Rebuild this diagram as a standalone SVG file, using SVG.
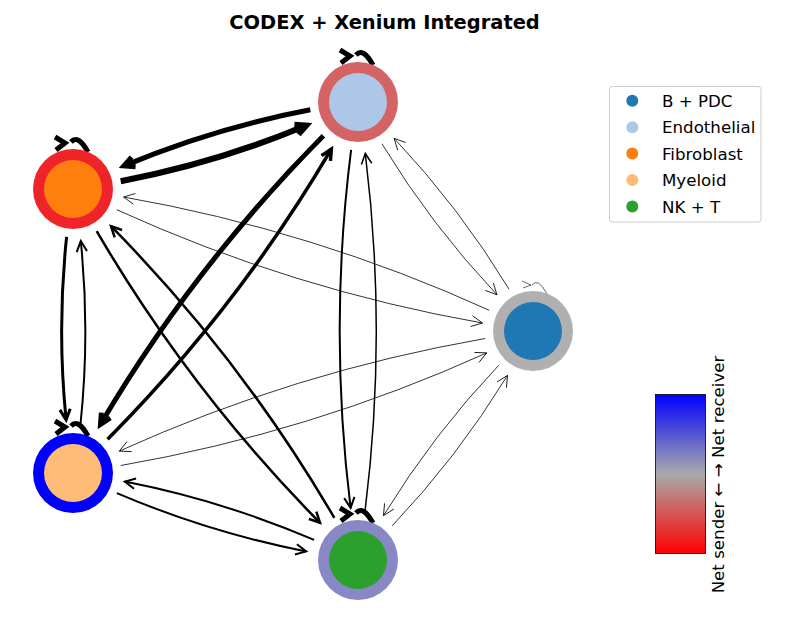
<svg xmlns="http://www.w3.org/2000/svg" width="794" height="636" viewBox="0 0 794 636">
<style>
text{font-family:"DejaVu Sans","Liberation Sans",sans-serif;fill:#000}
.title{font-size:19.44px;font-weight:bold}
.leg{font-size:16.67px}
.cb{font-size:16.67px}
#edges path{fill:none;stroke:#000;stroke-linecap:butt}
.loop{fill:none;stroke:#000;stroke-linejoin:miter}
.w6{stroke-width:6}.w5{stroke-width:5}.w35{stroke-width:3.5}.w3{stroke-width:3}.w25{stroke-width:2.5}.w2{stroke-width:2}.w15{stroke-width:1.5}.w08{stroke-width:0.8}
.head{fill:none;stroke:#000;stroke-linejoin:miter;stroke-linecap:butt}
</style>
<defs>
<marker id="m6" markerUnits="userSpaceOnUse" orient="auto" refX="0" refY="0" markerWidth="1" markerHeight="1" overflow="visible"><path class="head" stroke-width="6" d="M-10.5,-5.2 L0,0 L-10.5,5.2"/></marker>
<marker id="m5" markerUnits="userSpaceOnUse" orient="auto" refX="0" refY="0" markerWidth="1" markerHeight="1" overflow="visible"><path class="head" stroke-width="5" d="M-10.5,-5.2 L0,0 L-10.5,5.2"/></marker>
<marker id="m35" markerUnits="userSpaceOnUse" orient="auto" refX="0" refY="0" markerWidth="1" markerHeight="1" overflow="visible"><path class="head" stroke-width="3.5" d="M-10.5,-5.2 L0,0 L-10.5,5.2"/></marker>
<marker id="m3" markerUnits="userSpaceOnUse" orient="auto" refX="0" refY="0" markerWidth="1" markerHeight="1" overflow="visible"><path class="head" stroke-width="3" d="M-10.5,-5.2 L0,0 L-10.5,5.2"/></marker>
<marker id="m25" markerUnits="userSpaceOnUse" orient="auto" refX="0" refY="0" markerWidth="1" markerHeight="1" overflow="visible"><path class="head" stroke-width="2.5" d="M-10.5,-5.2 L0,0 L-10.5,5.2"/></marker>
<marker id="m2" markerUnits="userSpaceOnUse" orient="auto" refX="0" refY="0" markerWidth="1" markerHeight="1" overflow="visible"><path class="head" stroke-width="2" d="M-10.5,-5.2 L0,0 L-10.5,5.2"/></marker>
<marker id="m15" markerUnits="userSpaceOnUse" orient="auto" refX="0" refY="0" markerWidth="1" markerHeight="1" overflow="visible"><path class="head" stroke-width="1.5" d="M-10.5,-5.2 L0,0 L-10.5,5.2"/></marker>
<marker id="m08" markerUnits="userSpaceOnUse" orient="auto" refX="0" refY="0" markerWidth="1" markerHeight="1" overflow="visible"><path class="head" stroke-width="0.8" d="M-11,-5.5 L0,0 L-11,5.5"/></marker>
<linearGradient id="cmap" x1="0" y1="0" x2="0" y2="1">
<stop offset="0" stop-color="#0000ff"/>
<stop offset="0.5" stop-color="#aaaaaa"/>
<stop offset="1" stop-color="#ff0000"/>
</linearGradient>
<g id="loopThick"><path class="loop" stroke-width="5" d="M-2,-47 Q5,-55 15,-37"/><path class="loop" stroke-width="5" d="M-18,-52 L-8,-46 L-17,-39"/></g>
</defs>

<rect width="794" height="636" fill="#fff"/>

<text class="title" x="384.5" y="29" text-anchor="middle">CODEX + Xenium Integrated</text>

<g id="edges">
<path class="w5" marker-end="url(#m5)" d="M310.3,109.8 Q214.1,128.1 123.9,165.9"/>
<path class="w6" marker-end="url(#m6)" d="M120.7,181.2 Q216.3,163 306.1,125.5"/>
<path class="w5" marker-end="url(#m5)" d="M323.4,135.8 Q193.9,266.2 100.5,424.3"/>
<path class="w35" marker-end="url(#m35)" d="M107.6,439.2 Q237.7,308.2 331.3,149.2"/>
<path class="w3" marker-end="url(#m3)" d="M66.6,236.9 Q56.9,328.4 66.1,419.8"/>
<path class="w2" marker-end="url(#m2)" d="M80.4,425.1 Q90.1,333.1 80.8,241.1"/>
<path class="w25" marker-end="url(#m25)" d="M96.7,231.2 Q190.1,391.1 320,522.8"/>
<path class="w25" marker-end="url(#m25)" d="M334.3,517.8 Q240.9,357.9 111,226.2"/>
<path class="w2" marker-end="url(#m2)" d="M351.1,149.9 Q328.5,328.9 350.6,507.9"/>
<path class="w15" marker-end="url(#m15)" d="M364.9,512.1 Q387.5,332.8 365.3,153.5"/>
<path class="w2" marker-end="url(#m2)" d="M116.9,493.1 Q208.5,532.3 306.2,551.4"/>
<path class="w2" marker-end="url(#m2)" d="M314.1,539.9 Q222.5,500.7 124.8,481.6"/>
<path class="w08" marker-end="url(#m08)" d="M382,143.9 Q431.5,225.4 496.9,294.7"/>
<path class="w08" marker-end="url(#m08)" d="M509,289.1 Q459.5,207.6 394.1,138.3"/>
<path class="w08" marker-end="url(#m08)" d="M116.7,209.7 Q292.4,289.6 482.4,323"/>
<path class="w08" marker-end="url(#m08)" d="M489.3,310.3 Q313.6,230.4 123.6,197"/>
<path class="w08" marker-end="url(#m08)" d="M120.8,465.5 Q310.9,432.5 486.7,352.9"/>
<path class="w08" marker-end="url(#m08)" d="M485.2,338.5 Q295.1,371.6 119.3,451.1"/>
<path class="w08" marker-end="url(#m08)" d="M392.2,525.8 Q457.8,456.7 507.5,375.4"/>
<path class="w08" marker-end="url(#m08)" d="M498.8,365.2 Q433.3,434.3 383.5,515.6"/>
<use href="#loopThick" transform="translate(358,102)"/>
<use href="#loopThick" transform="translate(73,189)"/>
<use href="#loopThick" transform="translate(73,473)"/>
<use href="#loopThick" transform="translate(358,560)"/>
<g transform="translate(533,331)"><path class="loop" stroke="#555" stroke-width="0.6" d="M-1,-46 Q5,-54 14,-37"/><path class="loop" stroke="#555" stroke-width="0.6" d="M-11,-50 L-2,-46 L-10,-43"/></g>
</g>

<g id="node-endothelial"><circle cx="358" cy="102" r="40" fill="#d46464"/><circle cx="358" cy="102" r="29" fill="#aec7e8"/></g>
<g id="node-fibroblast"><circle cx="73" cy="189" r="40" fill="#ee2428"/><circle cx="73" cy="189" r="29" fill="#ff7f0e"/></g>
<g id="node-bpdc"><circle cx="533" cy="331" r="40" fill="#b0b0b0"/><circle cx="533" cy="331" r="29" fill="#1f77b4"/></g>
<g id="node-myeloid"><circle cx="73" cy="473" r="40" fill="#0000ff"/><circle cx="73" cy="473" r="29" fill="#ffbb78"/></g>
<g id="node-nkt"><circle cx="358" cy="560" r="40" fill="#8888c6"/><circle cx="358" cy="560" r="29" fill="#2ca02c"/></g>

<g id="legend">
<rect x="609.5" y="86.5" width="151.5" height="135.5" rx="3" fill="#fff" fill-opacity="0.8" stroke="#cccccc" stroke-width="1"/>
<circle cx="632.3" cy="100.7" r="6" fill="#1f77b4"/>
<text class="leg" x="662" y="106.8">B + PDC</text>
<circle cx="632.3" cy="127.2" r="6" fill="#aec7e8"/>
<text class="leg" x="662" y="133.3">Endothelial</text>
<circle cx="632.3" cy="153.6" r="6" fill="#ff7f0e"/>
<text class="leg" x="662" y="159.7">Fibroblast</text>
<circle cx="632.3" cy="180" r="6" fill="#ffbb78"/>
<text class="leg" x="662" y="186.1">Myeloid</text>
<circle cx="632.3" cy="206.4" r="6" fill="#2ca02c"/>
<text class="leg" x="662" y="212.5">NK + T</text>
</g>

<g id="colorbar">
<rect x="655.5" y="394.5" width="50" height="159" fill="url(#cmap)" stroke="#000" stroke-width="0.8"/>
<text class="cb" transform="translate(724,474.5) rotate(-90)" text-anchor="middle">Net sender ← → Net receiver</text>
</g>
</svg>
